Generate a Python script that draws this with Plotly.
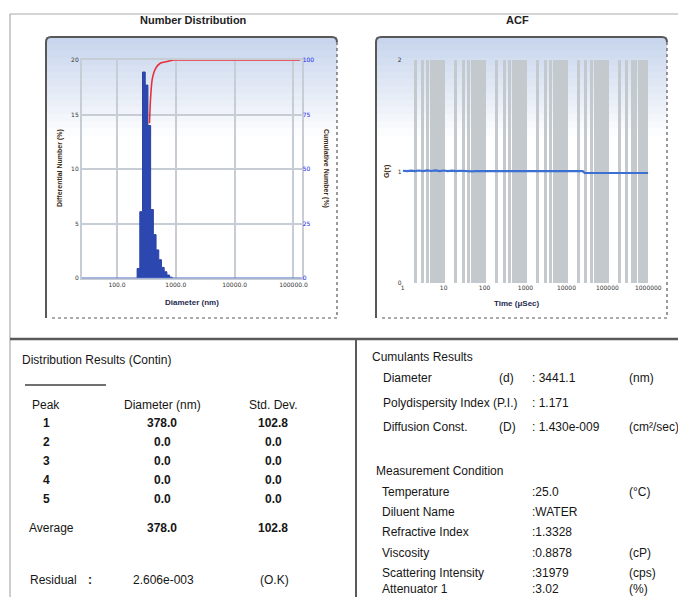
import plotly.graph_objects as go

W, H = 678, 597

# ---------------- data ----------------
# Number distribution (differential histogram, bin edges in nm)
hist_edges_nm = [219.8, 244.3, 271.6, 302.0, 335.7, 373.3, 415.0, 461.3,
                 512.9, 570.2, 633.9, 704.7, 783.4, 871.0]
hist_diff_pct = [0.9, 6.1, 18.9, 17.7, 14.0, 6.3, 4.0, 2.6, 1.7, 1.0, 0.6, 0.3, 0.1]
# Cumulative number curve
cum_diam_nm = [357, 371, 396, 452, 550, 762, 916, 1500, 130000]
cum_number_pct = [71, 82, 91, 96, 98.6, 99.5, 100, 100, 100]
dist_tickvals = [100, 1000, 10000, 100000]
dist_ticktext = ["100.0", "1000.0", "10000.0", "100000.0"]
diff_ticks = [0, 5, 10, 15, 20]
cum_ticks = [0, 25, 50, 75, 100]

# ACF
acf_tau_us = [1, 1.3, 1.6, 2, 2.5, 3.2, 4, 5, 6.3, 8, 10, 12.6, 16, 20, 25, 32,
              40, 50, 63, 80, 100, 300, 1000, 3000, 10000, 25000, 28000,
              50000, 100000, 300000, 1000000]
acf_g = [1.008, 1.004, 1.009, 1.004, 1.010, 1.005, 1.012, 1.006, 1.011, 1.004,
         1.010, 1.005, 1.009, 1.004, 1.008, 1.004, 1.007, 1.003, 1.006, 1.004,
         1.004, 1.004, 1.004, 1.004, 1.004, 1.004, 0.988, 0.988, 0.988, 0.988, 0.988]
acf_ticks = [0, 1, 2]

# Distribution results table
peak_ids = ["1", "2", "3", "4", "5"]
peak_diam = ["378.0", "0.0", "0.0", "0.0", "0.0"]
peak_sd = ["102.8", "0.0", "0.0", "0.0", "0.0"]
avg_diam, avg_sd = "378.0", "102.8"
residual, residual_status = "2.606e-003", "(O.K)"

# Cumulants results
cum_labels = ["Diameter", "Polydispersity Index (P.I.)", "Diffusion Const."]
cum_syms = ["(d)", "", "(D)"]
cum_vals = ["3441.1", "1.171", "1.430e-009"]
cum_units = ["(nm)", "", "(cm²/sec)"]

# Measurement condition
meas_labels = ["Temperature", "Diluent Name", "Refractive Index", "Viscosity",
               "Scattering Intensity", "Attenuator 1"]
meas_vals = ["25.0", "WATER", "1.3328", "0.8878", "31979", "3.02"]
meas_units = ["(°C)", "", "", "(cP)", "(cps)", "(%)"]

# ---------------- helpers ----------------
def px(x):
    return x / W


def py(y):
    return 1 - y / H


FONT = "Liberation Sans, Arial, sans-serif"
TXT = "#161616"

fig = go.Figure()

# Number distribution histogram (step fill)
hx = [hist_edges_nm[0]] + hist_edges_nm
hy = [0] + hist_diff_pct + [0]
fig.add_trace(go.Scatter(x=hx, y=hy, mode="lines", line=dict(color="#2a42a4", width=1, shape="hv"),
                         fill="tozeroy", fillcolor="#2c48b0", xaxis="x", yaxis="y",
                         showlegend=False, hoverinfo="skip"))
# cumulative curve
fig.add_trace(go.Scatter(x=cum_diam_nm, y=cum_number_pct, mode="lines",
                         line=dict(color="#e8303a", width=1.6, shape="spline", smoothing=0.6),
                         xaxis="x", yaxis="y2", showlegend=False, hoverinfo="skip"))
# ACF
fig.add_trace(go.Scatter(x=acf_tau_us, y=acf_g, mode="lines",
                         line=dict(color="#3b6fd2", width=2.2),
                         xaxis="x2", yaxis="y3", showlegend=False, hoverinfo="skip"))

shapes = []
# page borders
shapes.append(dict(type="line", xref="paper", yref="paper", x0=px(10), x1=px(678), y0=py(14), y1=py(14),
                   line=dict(color="#a8a8a8", width=1)))
shapes.append(dict(type="line", xref="paper", yref="paper", x0=px(10), x1=px(10), y0=py(14), y1=py(597),
                   line=dict(color="#9a9a9a", width=1)))
shapes.append(dict(type="line", xref="paper", yref="paper", x0=px(10), x1=px(678), y0=py(339), y1=py(339),
                   line=dict(color="#5a5a5a", width=2.5)))
shapes.append(dict(type="line", xref="paper", yref="paper", x0=px(356), x1=px(356), y0=py(339), y1=py(597),
                   line=dict(color="#5a5a5a", width=2)))
shapes.append(dict(type="line", xref="paper", yref="paper", x0=px(25), x1=px(106), y0=py(385), y1=py(385),
                   line=dict(color="#707070", width=2)))

# chart panels with gradient
for (l, r) in [(46, 337), (376, 667)]:
    top, bot = 37, 318
    n = 14
    c0 = (200, 213, 237)
    for i in range(n):
        y0 = top + i * 7
        f = i / n
        col = tuple(int(c0[k] + (255 - c0[k]) * f) for k in range(3))
        shapes.append(dict(type="rect", xref="paper", yref="paper", layer="below",
                           x0=px(l), x1=px(r), y0=py(y0), y1=py(y0 + 7.5),
                           fillcolor="rgb(%d,%d,%d)" % col, line=dict(width=0)))
    shapes.append(dict(type="path", xref="paper", yref="paper",
                       path="M %f,%f L %f,%f Q %f,%f %f,%f L %f,%f Q %f,%f %f,%f" % (
                           px(l), py(bot), px(l), py(top + 5), px(l), py(top), px(l + 5), py(top),
                           px(r - 5), py(top), px(r), py(top), px(r), py(top + 5)),
                       line=dict(color="#585858", width=2)))
    shapes.append(dict(type="line", xref="paper", yref="paper", x0=px(r), x1=px(r), y0=py(top + 5), y1=py(bot),
                       line=dict(color="#585858", width=1.2, dash="dot")))
    shapes.append(dict(type="line", xref="paper", yref="paper", x0=px(l + 6), x1=px(r), y0=py(bot), y1=py(bot),
                       line=dict(color="#585858", width=1.2, dash="dot")))

# blue baseline of the distribution plot
shapes.append(dict(type="line", xref="x domain", yref="y", x0=0, x1=1, y0=0, y1=0,
                   line=dict(color="#4a68c8", width=1.5)))

annotations = []


def txt(s, x, y, anchor="left", size=12, color=TXT, bold=False, angle=0, family=FONT):
    if bold:
        s = "<b>" + s + "</b>"
    annotations.append(dict(text=s, x=px(x), y=py(y), xref="paper", yref="paper",
                            xanchor=anchor, yanchor="middle", showarrow=False, textangle=angle,
                            font=dict(size=size, color=color, family=family)))


# chart titles
txt("Number Distribution", 193, 20, "center", 11, "#222", bold=True)
txt("ACF", 517, 20, "center", 11, "#222", bold=True)
# axis titles
txt("Diameter (nm)", 192, 302, "center", 8, "#1e2a50", bold=True)
txt("Differential Number (%)", 60, 168, "center", 7, "#3a2a10", bold=True, angle=-90)
txt("Cumulative Number (%)", 326, 168, "center", 7, "#3a2a10", bold=True, angle=90)
txt("Time (μSec)", 517, 303, "center", 8, "#1e2a50", bold=True)
txt("G(τ)", 387, 172, "center", 7, "#3a2a10", bold=True, angle=-90)

# distribution results
txt("Distribution Results (Contin)", 20, 360)
txt("Peak", 46, 405, "center")
txt("Diameter (nm)", 162, 405, "center")
txt("Std. Dev.", 273, 405, "center")
row_y = [423, 442, 461, 480, 499]
for pid, d, s, yy in zip(peak_ids, peak_diam, peak_sd, row_y):
    txt(pid, 46, yy, "center", bold=True)
    txt(d, 162, yy, "center", bold=True)
    txt(s, 273, yy, "center", bold=True)
txt("Average", 27, 528)
txt(avg_diam, 162, 528, "center", bold=True)
txt(avg_sd, 273, 528, "center", bold=True)
txt("Residual", 28, 580)
txt(":", 90, 580, "center", bold=True)
txt(residual, 163, 580, "center")
txt(residual_status, 274, 580, "center")

# cumulants results
txt("Cumulants Results", 370, 357)
cy = [378, 403, 427]
for lab, sym, val, unit, yy in zip(cum_labels, cum_syms, cum_vals, cum_units, cy):
    txt(lab, 381, yy)
    if sym:
        txt(sym, 497, yy)
    txt(": " + val, 530, yy)
    if unit:
        txt(unit, 627, yy)

txt("Measurement Condition", 374, 471)
my = [492, 512, 532, 553, 573, 589]
for lab, val, unit, yy in zip(meas_labels, meas_vals, meas_units, my):
    txt(lab, 380, yy)
    txt(":" + val, 530, yy)
    if unit:
        txt(unit, 627, yy)

tickfont = dict(size=6, color="#333", family="DejaVu Sans")
grid = "#c6cdd4"

fig.update_layout(
    width=W, height=H, autosize=False,
    margin=dict(l=0, r=0, t=0, b=0, pad=0, autoexpand=False),
    paper_bgcolor="white", plot_bgcolor="white",
    shapes=shapes, annotations=annotations,
    xaxis=dict(domain=[px(81.7), px(301.7)], type="log", range=[1.4, 5.14],
               tickvals=dist_tickvals, ticktext=dist_ticktext, tickfont=tickfont,
               showgrid=True, gridcolor=grid, gridwidth=1.5, zeroline=False,
               showline=True, linecolor=grid, linewidth=1.5, mirror=True,
               ticks="", anchor="y"),
    yaxis=dict(domain=[py(278.3), py(60)], range=[0, 20], tickvals=diff_ticks,
               tickfont=tickfont, showgrid=True, gridcolor=grid, gridwidth=1.5,
               zeroline=False, showline=True, linecolor=grid, linewidth=1.5, mirror=True,
               ticks="", anchor="x"),
    yaxis2=dict(overlaying="y", side="right", range=[0, 100], tickvals=cum_ticks,
                tickfont=dict(size=6, color="#1a22ee", family="DejaVu Sans"),
                showgrid=False, zeroline=False, ticks="", anchor="x"),
    xaxis2=dict(domain=[px(402.7), px(648.3)], type="log", range=[0, 6], dtick=1,
                tickformat="d", tickfont=tickfont,
                showgrid=True, gridcolor="#c4c9ce", gridwidth=2.5, zeroline=False,
                minor=dict(dtick="D1", showgrid=True, gridcolor="#c4c9ce", gridwidth=2.5, ticks=""),
                ticks="", anchor="y3"),
    yaxis3=dict(domain=[py(283.3), py(60)], range=[0, 2], tickvals=acf_ticks,
                tickfont=tickfont, showgrid=False, zeroline=False, ticks="", anchor="x2",
                showline=False),
)

fig.write_html("out.html",
               config={"responsive": False, "displayModeBar": False},
               post_script="document.body.style.margin='0px';document.body.style.overflow='hidden';")
